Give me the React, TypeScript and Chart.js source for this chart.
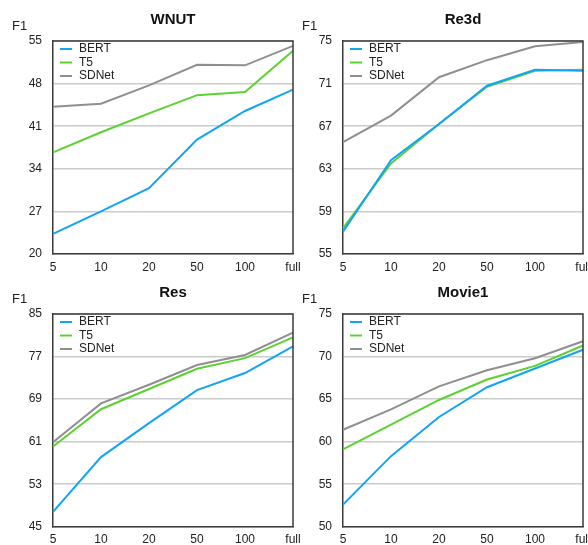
import React, { useEffect, useRef } from "react";
import { Chart, registerables } from "chart.js";
Chart.register(...registerables);

const xLabels = ["5", "10", "20", "50", "100", "full"];
const seriesNames = ["BERT", "T5", "SDNet"];
const seriesColors = ["#12a4f5", "#5cd131", "#8f8f8f"];

const wnutBert = [23.3, 27.0, 30.8, 38.8, 43.5, 47.0];
const wnutT5 = [36.7, 40.0, 43.1, 46.1, 46.6, 53.4];
const wnutSDNet = [44.2, 44.7, 47.7, 51.1, 51.0, 54.2];

const re3dBert = [57.1, 63.8, 67.2, 70.8, 72.3, 72.2];
const re3dT5 = [57.4, 63.5, 67.2, 70.7, 72.2, 72.3];
const re3dSDNet = [65.5, 68.0, 71.6, 73.2, 74.5, 74.9];

const resBert = [47.8, 58.1, 64.5, 70.7, 73.9, 78.9];
const resT5 = [60.1, 67.1, 70.9, 74.7, 76.7, 80.6];
const resSDNet = [60.9, 68.2, 71.7, 75.4, 77.3, 81.5];

const movieBert = [52.6, 58.3, 62.9, 66.4, 68.6, 70.8];
const movieT5 = [59.1, 62.0, 64.9, 67.3, 68.9, 71.3];
const movieSDNet = [61.4, 63.8, 66.5, 68.4, 69.8, 71.8];

const FONT = "'Liberation Sans', Arial, Helvetica, sans-serif";
const BORDER = "#3a3a3a";
const GRID = "#cccccc";
const X_AXIS_H = 20;

type PanelProps = {
  left: number;
  top: number;
  width: number;
  height: number;
  pl: number;
  pt: number;
  pr: number;
  pb: number;
  title: string;
  min: number;
  max: number;
  step: number;
  data: number[][];
};

function Panel(props: PanelProps) {
  const ref = useRef<HTMLCanvasElement>(null);
  useEffect(() => {
    const { left, top, width, height, pl, pt, pr, pb, title, min, max, step, data } = props;
    const yAxisW = pl - left;
    const overlay = {
      id: "overlay",
      afterDraw(chart: any) {
        const ctx = chart.ctx;
        const a = chart.chartArea;
        ctx.save();
        // top and right frame
        ctx.strokeStyle = BORDER;
        ctx.lineWidth = 1.5;
        ctx.beginPath();
        ctx.moveTo(a.left, a.top);
        ctx.lineTo(a.right, a.top);
        ctx.lineTo(a.right, a.bottom);
        ctx.stroke();
        // title
        ctx.fillStyle = "#111";
        ctx.font = "bold 15px " + FONT;
        ctx.textAlign = "center";
        ctx.textBaseline = "middle";
        ctx.fillText(title, (a.left + a.right) / 2, a.top - 21.5);
        // F1 label
        ctx.font = "13px " + FONT;
        ctx.textAlign = "left";
        ctx.fillStyle = "#222";
        ctx.fillText("F1", a.left - 41, a.top - 14.5);
        // legend
        ctx.font = "12px " + FONT;
        seriesNames.forEach((n, i) => {
          const y = a.top + 8 + i * 13.5;
          ctx.strokeStyle = seriesColors[i];
          ctx.lineWidth = 2;
          ctx.beginPath();
          ctx.moveTo(a.left + 7, y);
          ctx.lineTo(a.left + 19, y);
          ctx.stroke();
          ctx.fillStyle = "#222";
          ctx.fillText(n, a.left + 26, y);
        });
        ctx.restore();
      },
    };
    const chart = new Chart(ref.current as HTMLCanvasElement, {
      type: "line",
      data: {
        labels: xLabels,
        datasets: data.map((d, i) => ({
          label: seriesNames[i],
          data: d,
          borderColor: seriesColors[i],
          backgroundColor: seriesColors[i],
          borderWidth: 2,
          pointRadius: 0,
          tension: 0,
          fill: false,
        })),
      },
      options: {
        responsive: false,
        animation: false,
        devicePixelRatio: 1,
        layout: {
          padding: {
            left: 0,
            top: pt - top,
            right: left + width - pr,
            bottom: top + height - pb - X_AXIS_H,
          },
        },
        plugins: {
          legend: { display: false },
          title: { display: false },
          tooltip: { enabled: false },
        },
        scales: {
          x: {
            type: "category",
            offset: false,
            grid: { display: false, drawTicks: false },
            border: { display: true, color: BORDER, width: 1.5 },
            ticks: {
              padding: 6,
              color: "#222",
              font: { family: FONT, size: 12 },
              maxRotation: 0,
              autoSkip: false,
            },
            afterFit(scale: any) {
              scale.height = X_AXIS_H;
            },
          },
          y: {
            min,
            max,
            grid: { color: GRID, lineWidth: 1.5, drawTicks: false },
            border: { display: true, color: BORDER, width: 1.5 },
            ticks: {
              stepSize: step,
              padding: 11,
              color: "#222",
              font: { family: FONT, size: 12 },
            },
            afterFit(scale: any) {
              scale.width = yAxisW;
            },
          },
        },
      },
      plugins: [overlay],
    } as any);
    return () => chart.destroy();
  }, []);
  return (
    <canvas
      ref={ref}
      width={props.width}
      height={props.height}
      style={{ position: "absolute", left: props.left, top: props.top, width: props.width, height: props.height }}
    />
  );
}

export default function App() {
  return (
    <div
      style={{
        position: "fixed",
        left: 0,
        top: 0,
        width: 588,
        height: 545,
        overflow: "hidden",
        background: "#fff",
      }}
    >
      <Panel left={0} top={0} width={310} height={276} pl={53} pt={41} pr={293} pb={254}
        title="WNUT" min={20} max={55} step={7} data={[wnutBert, wnutT5, wnutSDNet]} />
      <Panel left={294} top={0} width={310} height={276} pl={343} pt={41} pr={583} pb={254}
        title="Re3d" min={55} max={75} step={4} data={[re3dBert, re3dT5, re3dSDNet]} />
      <Panel left={0} top={276} width={310} height={269} pl={53} pt={314} pr={293} pb={528}
        title="Res" min={45} max={85} step={8} data={[resBert, resT5, resSDNet]} />
      <Panel left={294} top={276} width={310} height={269} pl={343} pt={314} pr={583} pb={528}
        title="Movie1" min={50} max={75} step={5} data={[movieBert, movieT5, movieSDNet]} />
    </div>
  );
}
